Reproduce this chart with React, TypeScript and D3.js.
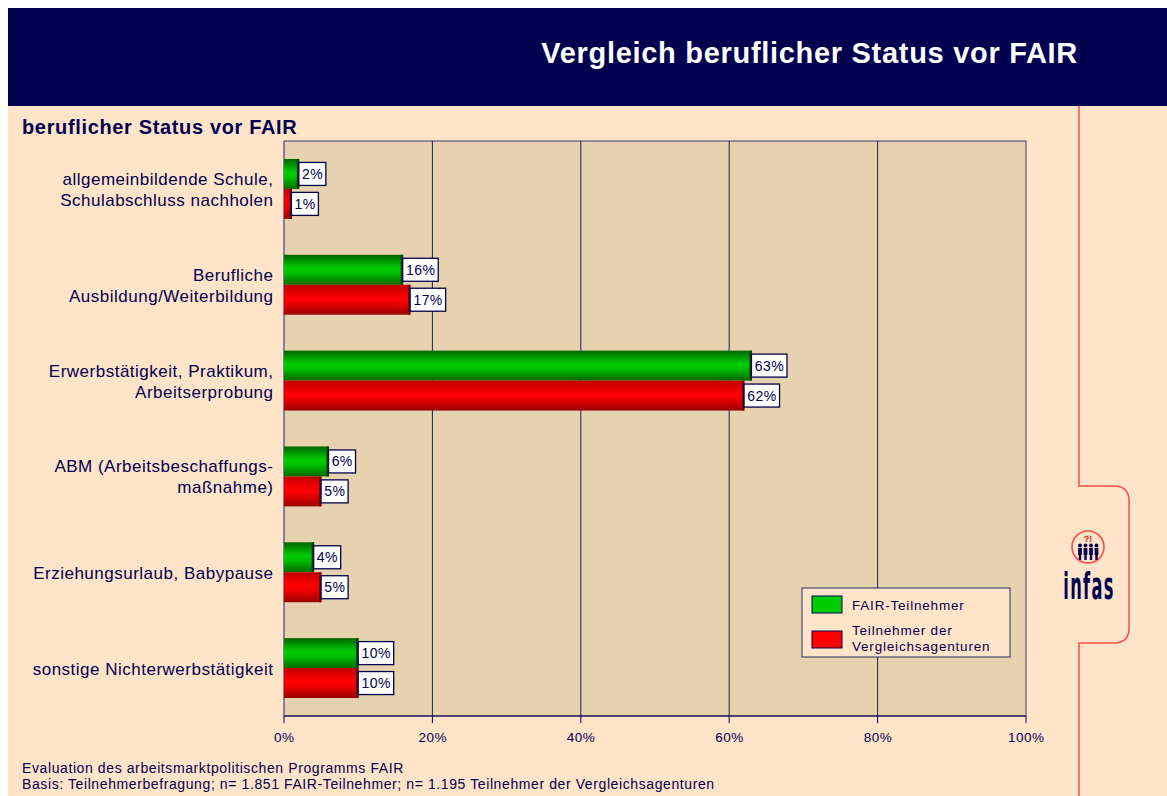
import React from 'react';
import * as d3 from 'd3';

const categories: string[][] = [
  ['allgemeinbildende Schule,', 'Schulabschluss nachholen'],
  ['Berufliche', 'Ausbildung/Weiterbildung'],
  ['Erwerbstätigkeit, Praktikum,', 'Arbeitserprobung'],
  ['ABM (Arbeitsbeschaffungs-', 'maßnahme)'],
  ['Erziehungsurlaub, Babypause'],
  ['sonstige Nichterwerbstätigkeit'],
];
const fairValues = [2, 16, 63, 6, 4, 10];
const vergleichValues = [1, 17, 62, 5, 5, 10];
const seriesNames = ['FAIR-Teilnehmer', 'Teilnehmer der', 'Vergleichsagenturen'];
const xTicks = [0, 20, 40, 60, 80, 100];

const NAVY = '#00004f';
const PEACH = '#ffe4c9';
const PLOT_BG = '#e6d2ae';
const FONT = 'Arial, "Liberation Sans", sans-serif';

const W = 1167;
const H = 796;
const plot = { left: 284, right: 1026, top: 141, bottom: 716 };

const App: React.FC = () => {
  const x = d3.scaleLinear().domain([0, 100]).range([plot.left, plot.right]);
  const y = d3
    .scaleBand<number>()
    .domain(d3.range(categories.length))
    .range([plot.top, plot.bottom])
    .paddingInner(0.375)
    .paddingOuter(0.1875);
  const inner = d3.scaleBand<number>().domain([0, 1]).range([0, y.bandwidth()]);
  const series = [fairValues, vergleichValues];
  const fills = ['url(#gGreen)', 'url(#gRed)'];
  const caps = ['#004400', '#7a0000'];

  return (
    <svg
      width={W}
      height={H}
      style={{ position: 'absolute', left: 0, top: 0, background: '#fff' }}
      fontFamily={FONT}
    >
      <defs>
        <linearGradient id="gGreen" x1="0" y1="0" x2="0" y2="1">
          <stop offset="0" stopColor="#006600" />
          <stop offset="0.45" stopColor="#00cc00" />
          <stop offset="0.6" stopColor="#00c000" />
          <stop offset="1" stopColor="#006a00" />
        </linearGradient>
        <linearGradient id="gRed" x1="0" y1="0" x2="0" y2="1">
          <stop offset="0" stopColor="#c00000" />
          <stop offset="0.45" stopColor="#ff0000" />
          <stop offset="0.6" stopColor="#f00000" />
          <stop offset="1" stopColor="#9a0000" />
        </linearGradient>
      </defs>

      {/* page background + header */}
      <rect x={8} y={8} width={W - 8} height={H - 8} fill={PEACH} />
      <rect x={8} y={8} width={W - 8} height={98} fill={NAVY} />
      <text x={1078} y={63} textAnchor="end" fill="#fff" fontSize={29} fontWeight="bold" letterSpacing={0.7}>
        Vergleich beruflicher Status vor FAIR
      </text>
      <text x={22} y={134} fill={NAVY} fontSize={20} fontWeight="bold" letterSpacing={0.65}>
        beruflicher Status vor FAIR
      </text>

      {/* red tab line */}
      <path
        d="M1079,106 V486 H1114 Q1129,486 1129,501 V628 Q1129,643 1114,643 H1079 V796"
        fill="none"
        stroke="#ff4a4a"
        strokeWidth={1.5}
      />

      {/* plot area */}
      <rect x={plot.left} y={plot.top} width={plot.right - plot.left} height={plot.bottom - plot.top} fill={PLOT_BG} stroke="#3c3c6a" strokeWidth={1} />
      {xTicks.slice(1, -1).map(t => (
        <line key={t} x1={x(t)} x2={x(t)} y1={plot.top} y2={plot.bottom} stroke="#1e1e5a" strokeWidth={1} />
      ))}
      <line x1={plot.left} x2={plot.left} y1={plot.top} y2={plot.bottom} stroke="#8a7a90" strokeWidth={1.5} />

      {/* x axis */}
      <line x1={plot.left} x2={plot.right} y1={plot.bottom} y2={plot.bottom} stroke={NAVY} strokeWidth={1} />
      {xTicks.map(t => (
        <g key={t}>
          <line x1={x(t)} x2={x(t)} y1={plot.bottom} y2={plot.bottom + 7} stroke={NAVY} strokeWidth={1} />
          <text x={x(t) + 0.3} y={742} textAnchor="middle" fill={NAVY} fontSize={13.5} letterSpacing={0.5}>
            {t}%
          </text>
        </g>
      ))}

      {/* category labels */}
      {categories.map((lines, i) => {
        const cy = (y(i) ?? 0) + y.bandwidth() / 2;
        const lh = 21;
        const start = cy - ((lines.length - 1) * lh) / 2 + 6.5;
        return (
          <text key={i} textAnchor="end" fill={NAVY} fontSize={17} letterSpacing={0.5}>
            {lines.map((l, j) => (
              <tspan key={j} x={273.5} y={start + j * lh}>
                {l}
              </tspan>
            ))}
          </text>
        );
      })}

      {/* bars */}
      {series.map((vals, s) =>
        vals.map((v, i) => {
          const by = (y(i) ?? 0) + (inner(s) ?? 0);
          const bh = inner.bandwidth();
          const x1 = x(v);
          const label = `${v}%`;
          const boxW = label.length * 8.5 + 10;
          return (
            <g key={`${s}-${i}`}>
              <rect x={plot.left} y={by} width={x1 - plot.left} height={bh} fill={fills[s]} />
              <rect x={x1 - 2} y={by} width={2.5} height={bh} fill={caps[s]} />
              <rect x={x1} y={by + bh / 2 - 11.5} width={boxW} height={23} fill="#fff" stroke={NAVY} strokeWidth={1.3} />
              <text x={x1 + boxW / 2 + 0.2} y={by + bh / 2 + 5} textAnchor="middle" fill={NAVY} fontSize={14} letterSpacing={0.4}>
                {label}
              </text>
            </g>
          );
        })
      )}

      {/* legend */}
      <rect x={802} y={588} width={208} height={69} fill={PEACH} stroke="#2a2a60" strokeWidth={1} />
      <rect x={812} y={596} width={30} height={17} fill="#00cc00" stroke={NAVY} strokeWidth={1} />
      <text x={852} y={610} fill={NAVY} fontSize={13.5} letterSpacing={0.8}>
        {seriesNames[0]}
      </text>
      <rect x={812} y={631} width={30} height={17} fill="#ff0000" stroke={NAVY} strokeWidth={1} />
      <text fill={NAVY} fontSize={13.5} letterSpacing={0.8}>
        <tspan x={852} y={635}>{seriesNames[1]}</tspan>
        <tspan x={852} y={651}>{seriesNames[2]}</tspan>
      </text>

      {/* infas logo */}
      <g>
        <circle cx={1088} cy={547} r={16} fill="none" stroke="#ff4a4a" strokeWidth={1.6} />
        <text x={1088} y={542} textAnchor="middle" fill="#e02020" fontSize={9} fontWeight="bold">
          ?!
        </text>
        {[1080, 1085.5, 1091, 1096.5].map(px => (
          <g key={px} fill={NAVY}>
            <circle cx={px} cy={545.5} r={1.9} />
            <rect x={px - 1.9} y={548} width={3.8} height={7} />
            <rect x={px - 1.2} y={554} width={2.4} height={6} />
          </g>
        ))}
        <text
          x={1089}
          y={599}
          textAnchor="middle"
          fill={NAVY}
          fontSize={20}
          fontWeight="bold"
          letterSpacing={1.5}
          fontFamily='"DejaVu Sans Condensed", "Liberation Sans Narrow", sans-serif'
          transform="translate(1089,599) scale(0.9,1.85) translate(-1089,-599)"
        >
          infas
        </text>
      </g>

      {/* footer */}
      <text x={22} y={773} fill={NAVY} fontSize={14} letterSpacing={0.6}>
        Evaluation des arbeitsmarktpolitischen Programms FAIR
      </text>
      <text x={22} y={789} fill={NAVY} fontSize={14} letterSpacing={0.6}>
        Basis: Teilnehmerbefragung; n= 1.851 FAIR-Teilnehmer; n= 1.195 Teilnehmer der Vergleichsagenturen
      </text>
    </svg>
  );
};

export default App;
